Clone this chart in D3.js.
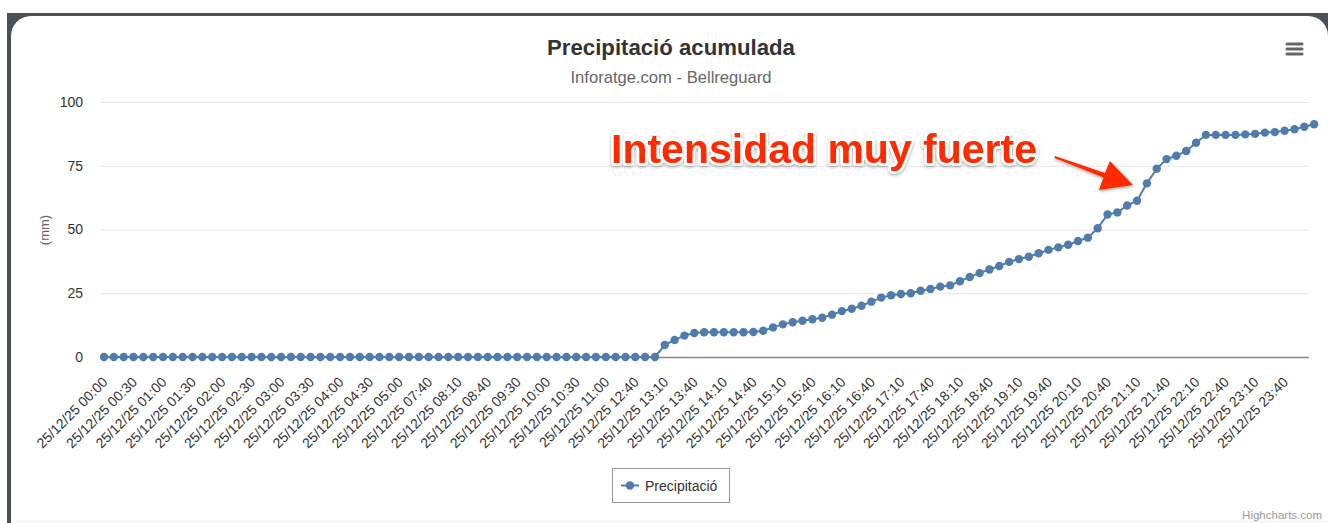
<!DOCTYPE html>
<html>
<head>
<meta charset="utf-8">
<script src="https://cdn.jsdelivr.net/npm/d3@7"></script>
<style>
  body { margin: 0; background: #fff; }
  svg { display: block; font-family: "Liberation Sans", Arial, Helvetica, sans-serif; }
</style>
</head>
<body>
<div id="app"></div>
<script>
// categories (10 min readings, some gaps)
const day = "25/12/25";
const times = [
  "00:00","00:10","00:20","00:30","00:40","00:50","01:00","01:10","01:20","01:30",
  "01:40","01:50","02:00","02:10","02:20","02:30","02:40","02:50","03:00","03:10",
  "03:20","03:30","03:40","03:50","04:00","04:10","04:20","04:30","04:40","04:50",
  "05:00","05:10","07:30","07:40","07:50","08:00","08:10","08:20","08:30","08:40",
  "08:50","09:20","09:30","09:40","09:50","10:00","10:10","10:20","10:30","10:40",
  "10:50","11:00","11:10","12:30","12:40","12:50","13:00","13:10","13:20","13:30",
  "13:40","13:50","14:00","14:10","14:20","14:30","14:40","14:50","15:00","15:10",
  "15:20","15:30","15:40","15:50","16:00","16:10","16:20","16:30","16:40","16:50",
  "17:00","17:10","17:20","17:30","17:40","17:50","18:00","18:10","18:20","18:30",
  "18:40","18:50","19:00","19:10","19:20","19:30","19:40","19:50","20:00","20:10",
  "20:20","20:30","20:40","20:50","21:00","21:10","21:20","21:30","21:40","21:50",
  "22:00","22:10","22:20","22:30","22:40","22:50","23:00","23:10","23:20","23:30",
  "23:40","23:50","00:00"
];

// accumulated precipitation (mm)
const precip = [
  0,0,0,0,0,0,0,0,0,0, 0,0,0,0,0,0,0,0,0,0,
  0,0,0,0,0,0,0,0,0,0, 0,0,0,0,0,0,0,0,0,0,
  0,0,0,0,0,0,0,0,0,0, 0,0,0,0,0,0,0,
  4.7,6.7,8.4,9.4,9.7,9.7,9.7,9.7,9.7,9.8,
  10.3,11.6,12.8,13.6,14.2,14.8,15.4,16.6,18.0,18.9,
  20.1,21.7,23.3,24.2,24.7,25.0,26.0,26.7,27.6,28.1,
  29.7,31.4,32.9,34.3,35.7,37.3,38.4,39.3,40.7,42.0,
  43.0,44.0,45.5,46.8,50.5,55.9,56.7,59.4,61.3,68.1,
  73.8,77.6,78.9,80.8,84.0,87.1,87.1,87.1,87.1,87.3,
  87.5,88.0,88.2,88.7,89.3,90.3,91.3
];

const yTicks = [0, 25, 50, 75, 100];
const labelStep = 3;

const W = 1328, H = 523;
const color = "#4f7cad";

const svg = d3.select("#app").append("svg")
  .attr("width", W).attr("height", H);

// page frame + card
svg.append("rect").attr("x", 7).attr("y", 13).attr("width", W).attr("height", H)
  .attr("fill", "#4b4f56");
svg.append("rect").attr("x", 11).attr("y", 16).attr("width", W - 11).attr("height", H + 30)
  .attr("rx", 20).attr("fill", "#fff");
svg.append("line").attr("x1", 11).attr("x2", W).attr("y1", 521.5).attr("y2", 521.5)
  .attr("stroke", "#efefef");

const plot = { left: 101, right: 1309, top: 102, bottom: 357 };

const x = d3.scaleLinear().domain([0, times.length - 1]).range([104, 1304.3]);
const y = d3.scaleLinear().domain([0, 100]).range([plot.bottom, plot.top]);

// title
svg.append("text").attr("x", 671).attr("y", 55).attr("text-anchor", "middle")
  .attr("font-size", 22.2).attr("font-weight", "bold").attr("fill", "#333")
  .text("Precipitació acumulada");
svg.append("text").attr("x", 671).attr("y", 83).attr("text-anchor", "middle")
  .attr("font-size", 16.6).attr("fill", "#666")
  .text("Inforatge.com - Bellreguard");

// menu icon
svg.append("g").selectAll("line").data([0, 1, 2]).enter().append("line")
  .attr("x1", 1287).attr("x2", 1302)
  .attr("y1", d => 44 + d * 5).attr("y2", d => 44 + d * 5)
  .attr("stroke", "#666").attr("stroke-width", 3).attr("stroke-linecap", "round");

// y grid + labels
const yAxis = svg.append("g").attr("transform", `translate(${plot.left},0)`)
  .call(d3.axisLeft(y).tickValues(yTicks).tickSize(-(plot.right - plot.left)).tickPadding(18));
yAxis.select(".domain").remove();
yAxis.selectAll(".tick line").attr("stroke", "#e6e6e6");
yAxis.selectAll(".tick text").attr("font-size", 14).attr("fill", "#333")
  .attr("font-family", "Liberation Sans, Arial, sans-serif");

svg.append("text").attr("transform", "translate(49,230) rotate(-90)")
  .attr("text-anchor", "middle").attr("font-size", 13).attr("fill", "#666")
  .text("(mm)");

// x axis
const xTickVals = d3.range(0, times.length, labelStep);
const xAxis = svg.append("g").attr("transform", `translate(0,${plot.bottom})`)
  .call(d3.axisBottom(x).tickValues(xTickVals).tickSize(0).tickFormat(i => day + " " + times[i]));
xAxis.select(".domain").attr("d", `M${plot.left},0.5H${plot.right}`)
  .attr("stroke", "#888").attr("stroke-width", 1.5);
xAxis.selectAll(".tick text")
  .attr("font-size", 14).attr("fill", "#333")
  .attr("font-family", "Liberation Sans, Arial, sans-serif")
  .attr("text-anchor", "end")
  .attr("dy", 0).attr("y", 0)
  .attr("transform", "translate(4,26) rotate(-45)");

// series
const line = d3.line().x((d, i) => x(i)).y(d => y(d));
svg.append("path").datum(precip).attr("d", line)
  .attr("fill", "none").attr("stroke", color).attr("stroke-width", 2);
svg.append("g").selectAll("circle").data(precip).enter().append("circle")
  .attr("cx", (d, i) => x(i)).attr("cy", d => y(d)).attr("r", 4.2)
  .attr("fill", color);

// annotation
const defs = svg.append("defs");
const f = defs.append("filter").attr("id", "sh").attr("x", "-10%").attr("y", "-30%")
  .attr("width", "120%").attr("height", "160%");
f.append("feDropShadow").attr("dx", 0).attr("dy", 1.5).attr("stdDeviation", 1.5)
  .attr("flood-color", "#000").attr("flood-opacity", 0.35);

svg.append("text").attr("x", 611).attr("y", 163)
  .attr("font-size", 41).attr("font-weight", "bold")
  .attr("fill", "#ff2a00").attr("stroke", "#fff").attr("stroke-width", 5)
  .attr("stroke-linejoin", "round").attr("paint-order", "stroke")
  .attr("filter", "url(#sh)")
  .text("Intensidad muy fuerte");

const tipX = x(105.5) - 9, tipY = y(67.5);
const arrow = [
  [tipX - 78, tipY - 29], [tipX - 28, tipY - 12], [tipX - 23, tipY - 24],
  [tipX, tipY], [tipX - 34, tipY + 5], [tipX - 29.5, tipY - 7.5], [tipX - 78.5, tipY - 27]
];
svg.append("path").attr("d", "M" + arrow.join("L") + "Z")
  .attr("fill", "#ff2a00").attr("filter", "url(#sh)");

// legend
const lg = svg.append("g");
lg.append("rect").attr("x", 612.5).attr("y", 468.5).attr("width", 117).attr("height", 34)
  .attr("fill", "#fff").attr("stroke", "#999");
lg.append("line").attr("x1", 621).attr("x2", 639).attr("y1", 485.5).attr("y2", 485.5)
  .attr("stroke", color).attr("stroke-width", 2);
lg.append("circle").attr("cx", 630).attr("cy", 485.5).attr("r", 4.2).attr("fill", color);
lg.append("text").attr("x", 645).attr("y", 490.5).attr("font-size", 14).attr("fill", "#333")
  .text("Precipitació");

// credits
svg.append("text").attr("x", 1322).attr("y", 519).attr("text-anchor", "end")
  .attr("font-size", 11.5).attr("fill", "#999").text("Highcharts.com");
</script>
</body>
</html>
